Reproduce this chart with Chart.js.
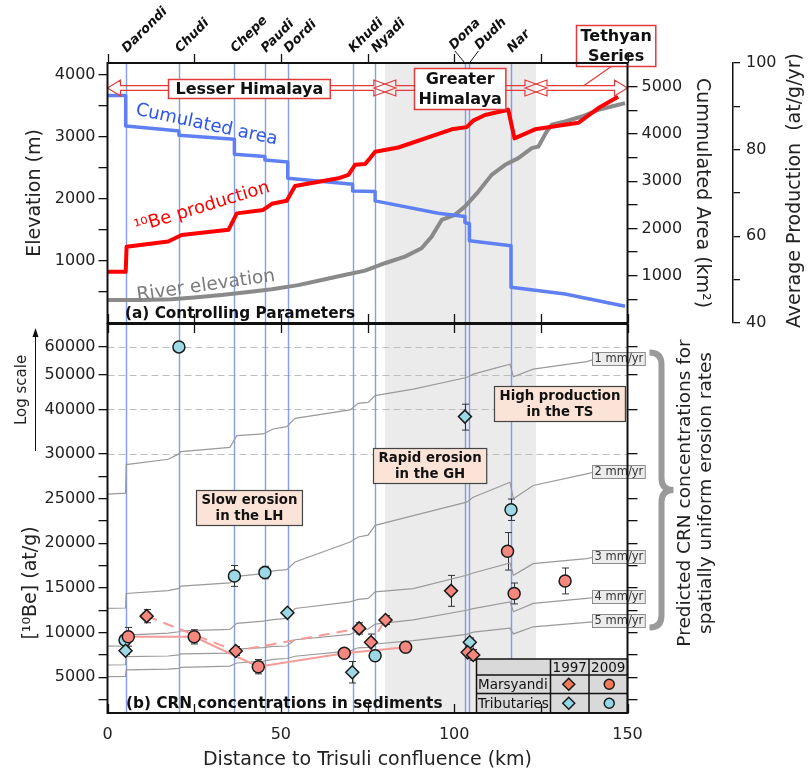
<!DOCTYPE html>
<html>
<head>
<meta charset="utf-8">
<title>10Be along the Marsyandi</title>
<script src="https://cdn.jsdelivr.net/npm/chart.js@4.4.1/dist/chart.umd.min.js"></script>
<style>
  body { margin: 0; background: #fff; }
  #page { position: relative; width: 808px; height: 775px; overflow: hidden; }
  #topChart { position: absolute; left: 0; top: 0; }
  #botChart { position: absolute; left: 0; top: 316px; }
</style>
</head>
<body>
<div id="page">
  <canvas id="topChart" width="808" height="330"></canvas>
  <canvas id="botChart" width="808" height="459"></canvas>
</div>
<script>
// ---------- values ----------
const tribNames = ['Darondi', 'Chudi', 'Chepe', 'Paudi', 'Dordi', 'Khudi', 'Nyadi', 'Dona', 'Dudh', 'Nar'];
const tribKm = [5.25, 20.6, 36.6, 45.4, 52.0, 70.7, 77.2, 103.1, 104.4, 116.4];
const lhEnd = 80;     // Lesser / Greater Himalaya boundary (km)
const ghEnd = 123.6;  // Greater Himalaya / Tethyan Series boundary (km)

// (a) controlling parameters
const areaKm = [0, 5.25, 5.25, 15.5, 20.6, 20.6, 36.6, 36.6, 45.4, 45.4, 52.0, 52.0, 70.7, 70.7, 77.2, 77.2, 95.4, 103.1, 103.1, 104.4, 104.4, 116.4, 116.4, 132, 149.3];
const areaKm2 = [4815, 4815, 4167, 4100, 4061, 3971, 3886, 3569, 3521, 3449, 3407, 3062, 2936, 2794, 2782, 2583, 2323, 2254, 2127, 2100, 1738, 1633, 754, 612, 353];

const prodKm = [0, 5.25, 5.5, 17.5, 21.4, 34.9, 37.3, 44.9, 47.4, 51.7, 54.1, 66.6, 69.5, 71.4, 74.3, 75.7, 77.2, 83.9, 99.3, 103.6, 105.5, 108.9, 115.6, 117.4, 123.3, 135.8, 141.6, 147.3];
const prodVal = [51.8, 51.8, 57.6, 58.8, 60.3, 61.5, 65.3, 66.1, 67.5, 68.2, 71.6, 73.4, 74.2, 76.5, 76.7, 78.0, 79.5, 80.5, 84.7, 85.2, 86.7, 88.0, 89.2, 82.6, 84.7, 86.2, 89.6, 92.2];

const riverKm = [0, 10, 18.5, 25, 32.9, 40, 47.4, 55, 61.8, 68, 74.3, 80.0, 85.8, 90.6, 93.5, 96.4, 100.2, 103.1, 107.0, 110.8, 114.7, 118.5, 122.4, 124.3, 126.7, 128.1, 132.0, 136.8, 141.6, 145.4, 149.3];
const riverElev = [371, 372, 382, 410, 452, 495, 544, 610, 694, 770, 844, 963, 1070, 1205, 1392, 1661, 1742, 1876, 2118, 2387, 2549, 2657, 2818, 2844, 3086, 3194, 3247, 3328, 3436, 3489, 3544];

// (b) predicted concentrations for uniform erosion rates
const rateNames = ['1 mm/yr', '2 mm/yr', '3 mm/yr', '4 mm/yr', '5 mm/yr'];
const rateKm = [0, 5.2, 5.4, 17.5, 20.6, 21.2, 35.3, 37.3, 44.9, 47.8, 51.7, 54.1, 70.0, 72.3, 75.2, 77.2, 88.2, 103.6, 105.5, 116.1, 117.1, 122.8, 138.2, 140.1];
const rate1 = [25500, 25600, 28800, 29400, 30000, 30450, 31300, 33770, 34140, 35260, 35790, 37780, 39880, 41620, 41890, 43750, 45660, 49210, 50300, 53650, 49430, 51950, 54560, 55270];
const rate2 = [12700, 12750, 14380, 14700, 14950, 15200, 15560, 16300, 16600, 16900, 17050, 17900, 20130, 20700, 20900, 22000, 23100, 24600, 25150, 26830, 24980, 26460, 27770, 27950];
const rate3 = [8490, 8520, 9720, 9950, 10090, 10200, 10360, 11030, 11280, 11450, 11590, 12700, 13440, 13710, 13820, 14550, 14930, 16420, 16670, 17790, 16420, 17720, 18280, 18430];
const rate4 = [6370, 6400, 7300, 7380, 7500, 7620, 7700, 8150, 8320, 8450, 8500, 9200, 9800, 10250, 10400, 10950, 11420, 12500, 12680, 13440, 12330, 13260, 13820, 13900];
const rate5 = [5070, 5100, 5820, 5900, 6000, 6100, 6250, 6600, 6800, 7000, 7100, 7350, 7950, 8300, 8350, 8720, 9100, 9800, 10050, 10500, 9850, 10650, 11150, 11200];

// (b) measured 10Be concentrations
const m1997Km = [11.3, 37.0, 72.6, 76.0, 80.2, 99.1, 103.9, 105.5];
const m1997Be = [11840, 7940, 10470, 8910, 11400, 14670, 7790, 7490];
const m1997Err = [740, 500, 630, 930, 500, 1730, 600, 600];

const m2009Km = [6.0, 25.0, 43.5, 68.3, 86.0, 115.4, 117.3, 132.0];
const m2009Be = [9530, 9530, 6180, 7680, 8350, 19100, 14380, 15780];
const m2009Err = [1050, 800, 800, 400, 500, 2100, 1170, 1450];

const t1997Km = [5.2, 51.9, 70.6, 103.1, 104.5];
const t1997Be = [7970, 12210, 5560, 38200, 8910];
const t1997Err = [400, 400, 1200, 3200, 500];

const t2009Km = [5.05, 20.6, 36.6, 45.4, 77.2, 116.4];
const t2009Be = [9160, 60000, 16340, 16720, 7410, 23750];
const t2009Err = [500, 0, 1170, 700, 400, 1200];

// ticks
const kmTicks = [0, 25, 50, 75, 100, 125, 150];
const kmLabels = [0, 50, 100, 150];
const elevTicks = [500, 1000, 1500, 2000, 2500, 3000, 3500, 4000];
const elevLabels = [1000, 2000, 3000, 4000];
const areaTicks = [500, 1000, 1500, 2000, 2500, 3000, 3500, 4000, 4500, 5000];
const areaLabels = [1000, 2000, 3000, 4000, 5000];
const prodTicks = [40, 50, 60, 70, 80, 90, 100];
const prodLabels = [40, 60, 80, 100];
const beTicks = [2500, 5000, 7500, 10000, 12500, 15000, 17500, 20000, 22500, 25000, 27500, 30000, 40000, 50000, 60000];
const beLabels = [5000, 10000, 15000, 20000, 25000, 30000, 40000, 50000, 60000];
const beDashed = [30000, 40000, 50000, 60000];

// ---------- setup ----------
const FONT = 'DejaVu Sans';
Chart.defaults.font.family = FONT;
Chart.defaults.color = '#222';

const MARS_FILL = '#f4877e', TRIB_FILL = '#9dd9e5';
const MARS_KEY = '#f27a58', TRIB_KEY = '#92d7e7';
const TRIB_LINE = '#6f8cea';

// linear below 30000, log above (the "Log scale" part of panel b)
const BE_BREAK = 30000;
const BE_LOG_SPAN = 11975;
class BreakLogScale extends Chart.LinearScale {
  static id = 'breaklog';
  toLin(v) { return v <= BE_BREAK ? v : BE_BREAK + BE_LOG_SPAN * Math.log2(v / BE_BREAK); }
  fromLin(t) { return t <= BE_BREAK ? t : BE_BREAK * Math.pow(2, (t - BE_BREAK) / BE_LOG_SPAN); }
  buildTicks() { return beTicks.map(v => ({ value: v })); }
  getPixelForValue(v) {
    if (v === null || v === undefined || isNaN(v)) return NaN;
    const a = this.toLin(this.min), b = this.toLin(this.max);
    return this.getPixelForDecimal((this.toLin(v) - a) / (b - a));
  }
  getValueForPixel(p) {
    const a = this.toLin(this.min), b = this.toLin(this.max);
    return this.fromLin(a + this.getDecimalForPixel(p) * (b - a));
  }
}
Chart.register(BreakLogScale);

const xy = (xs, ys) => xs.map((x, i) => ({ x, y: ys[i] }));
const setTicks = list => s => { s.ticks = list.map(v => ({ value: v })); };
const fixW = w => s => { s.width = w; s.paddingTop = 0; s.paddingBottom = 0; };

function line(ctx, x1, y1, x2, y2) {
  ctx.beginPath(); ctx.moveTo(x1, y1); ctx.lineTo(x2, y2); ctx.stroke();
}

function rotText(ctx, text, x, y, deg, font, color, align = 'center') {
  ctx.save();
  ctx.translate(x, y);
  ctx.rotate(deg * Math.PI / 180);
  ctx.font = font; ctx.fillStyle = color;
  ctx.textAlign = align; ctx.textBaseline = 'middle';
  ctx.fillText(text, 0, 0);
  ctx.restore();
}

function textBox(ctx, lines, cx, cy, o) {
  ctx.font = o.font;
  const w = Math.max(...lines.map(t => ctx.measureText(t).width)) + 2 * o.padX;
  const h = lines.length * o.lineH + 2 * o.padY;
  if (o.anchor === 'left') cx += w / 2;
  const left = Math.round(cx - w / 2) + 0.5, top = Math.round(cy - h / 2) + 0.5;
  ctx.fillStyle = o.fill; ctx.fillRect(left, top, w, h);
  ctx.strokeStyle = o.stroke; ctx.lineWidth = o.lw; ctx.strokeRect(left, top, w, h);
  ctx.fillStyle = o.color; ctx.textAlign = 'center'; ctx.textBaseline = 'middle';
  lines.forEach((t, i) => ctx.fillText(t, left + w / 2, top + o.padY + o.lineH * (i + 0.5) + 0.5));
  return { left, top, w, h };
}

function shade(ctx, x, a) {
  const l = x.getPixelForValue(lhEnd), r = x.getPixelForValue(ghEnd);
  ctx.fillStyle = '#ebebeb';
  ctx.fillRect(l, a.top, r - l, a.bottom - a.top);
}

function tribLines(ctx, x, a) {
  ctx.strokeStyle = TRIB_LINE; ctx.lineWidth = 1.4; ctx.globalAlpha = 0.85;
  tribKm.forEach(k => {
    const px = Math.round(x.getPixelForValue(k)) + 0.5;
    line(ctx, px, a.top, px, a.bottom);
  });
  ctx.globalAlpha = 1;
}

function kmTickMarks(ctx, x, y0, len) {
  ctx.strokeStyle = '#111'; ctx.lineWidth = 1.3;
  kmTicks.forEach(k => {
    const px = Math.round(x.getPixelForValue(k)) + 0.5;
    line(ctx, px, y0, px, y0 + len);
  });
}

function frame(ctx, a) {
  ctx.strokeStyle = '#111'; ctx.lineWidth = 2;
  ctx.strokeRect(a.left, a.top, a.right - a.left, a.bottom - a.top);
}

// hollow double arrow, head lengths h1 (left) and h2 (right)
function hollowArrow(ctx, x1, x2, y, h1, h2) {
  const hh = 8, sw = 2.4;
  ctx.beginPath();
  ctx.moveTo(x1, y);
  ctx.lineTo(x1 + h1, y - hh); ctx.lineTo(x1 + h1, y - sw);
  ctx.lineTo(x2 - h2, y - sw); ctx.lineTo(x2 - h2, y - hh);
  ctx.lineTo(x2, y);
  ctx.lineTo(x2 - h2, y + hh); ctx.lineTo(x2 - h2, y + sw);
  ctx.lineTo(x1 + h1, y + sw); ctx.lineTo(x1 + h1, y + hh);
  ctx.closePath();
  ctx.stroke();
}

function marker(ctx, style, cx, cy, r, fill) {
  ctx.beginPath();
  if (style === 'circle') ctx.arc(cx, cy, r, 0, Math.PI * 2);
  else { ctx.moveTo(cx - r, cy); ctx.lineTo(cx, cy - r); ctx.lineTo(cx + r, cy); ctx.lineTo(cx, cy + r); ctx.closePath(); }
  ctx.fillStyle = fill; ctx.fill();
  ctx.lineWidth = 1.5; ctx.strokeStyle = '#1a1a1a'; ctx.stroke();
}

function errorBars(ctx, x, y, kms, vals, errs) {
  ctx.strokeStyle = '#333'; ctx.lineWidth = 1;
  kms.forEach((k, i) => {
    if (!errs[i]) return;
    const px = Math.round(x.getPixelForValue(k)) + 0.5;
    const t = y.getPixelForValue(vals[i] + errs[i]);
    const b = y.getPixelForValue(vals[i] - errs[i]);
    ctx.beginPath();
    ctx.moveTo(px, t); ctx.lineTo(px, b);
    ctx.moveTo(px - 3.5, t); ctx.lineTo(px + 3.5, t);
    ctx.moveTo(px - 3.5, b); ctx.lineTo(px + 3.5, b);
    ctx.stroke();
  });
}

// ---------- panel (a) ----------
const topDecor = {
  id: 'topDecor',
  beforeDatasetsDraw(chart) {
    const { ctx, chartArea: a, scales: { x } } = chart;
    ctx.save();
    shade(ctx, x, a);
    tribLines(ctx, x, a);
    ctx.restore();
  },
  afterDraw(chart) {
    const { ctx, chartArea: a, scales: { x, elev } } = chart;
    ctx.save();

    rotText(ctx, 'Cumulated area', x.getPixelForValue(28.6), elev.getPixelForValue(3190), 12, `18px ${FONT}`, '#2d55e8');
    rotText(ctx, '¹⁰Be production', x.getPixelForValue(27.3), elev.getPixelForValue(1860), -17, `18px ${FONT}`, '#ff0000');
    rotText(ctx, 'River elevation', x.getPixelForValue(28.4), elev.getPixelForValue(600), -8, `18.5px ${FONT}`, '#7a7a7a');

    ctx.font = `bold 15.3px ${FONT}`; ctx.fillStyle = '#111';
    ctx.textAlign = 'left'; ctx.textBaseline = 'middle';
    ctx.fillText('(a) Controlling Parameters', a.left + 17.5, a.bottom - 9);

    // geological units
    const ay = a.top + 25;
    const b1 = x.getPixelForValue(lhEnd), b2 = x.getPixelForValue(ghEnd);
    ctx.strokeStyle = '#e23a3a'; ctx.lineWidth = 1.2;
    hollowArrow(ctx, x.getPixelForValue(0), b1 + 11, ay, 13, 22);
    hollowArrow(ctx, b1 - 11, b2 + 11, ay, 22, 22);
    hollowArrow(ctx, b2 - 11, x.getPixelForValue(150), ay, 22, 13);
    const tsx = x.getPixelForValue(146.5);
    line(ctx, tsx - 2, a.top + 2, tsx - 32, ay - 2);
    const unitBox = { font: `bold 16px ${FONT}`, fill: '#fff', stroke: '#e23a3a', lw: 1.5, color: '#111', padX: 4, padY: 0.5, lineH: 20 };
    textBox(ctx, ['Lesser Himalaya'], x.getPixelForValue(40.7), ay + 0.5, { ...unitBox, padX: 7, padY: 1, lineH: 17 });
    textBox(ctx, ['Greater', 'Himalaya'], x.getPixelForValue(101.5), ay, unitBox);
    textBox(ctx, ['Tethyan', 'Series'], tsx, a.top - 18, unitBox);

    frame(ctx, a);
    kmTickMarks(ctx, x, a.top, -9);
    kmTickMarks(ctx, x, a.bottom, -9);

    // tributary names on top
    const shift = { Dona: -12, Dudh: 9 };
    ctx.font = `italic bold 13px ${FONT}`;
    tribNames.forEach((n, i) => {
      const px = x.getPixelForValue(tribKm[i]);
      const s = shift[n] || 0;
      const ax = px + 1 + s, ay2 = a.top - (s ? 13 : 10);
      if (s) {
        ctx.strokeStyle = '#111'; ctx.lineWidth = 1;
        line(ctx, px, a.top, ax + (s < 0 ? 1 : -1), ay2 + 1);
      }
      ctx.save();
      ctx.translate(ax, ay2);
      ctx.rotate(-Math.PI / 4);
      ctx.fillStyle = '#111'; ctx.textAlign = 'left'; ctx.textBaseline = 'alphabetic';
      ctx.fillText(n, 0, 0);
      ctx.restore();
    });

    rotText(ctx, 'Average Production  (at/g/yr)', 795, 190.5, -90, `19px ${FONT}`, '#222');
    ctx.restore();
  }
};

const vAxis = (extra) => Object.assign({
  ticks: { autoSkip: false, font: { size: 16 }, color: '#222' },
  grid: { drawOnChartArea: false, drawTicks: true, tickLength: 9, color: '#111', lineWidth: 1.3 },
  border: { display: false }
}, extra);

new Chart(document.getElementById('topChart'), {
  type: 'line',
  data: {
    datasets: [
      { label: '10Be production', data: xy(prodKm, prodVal), yAxisID: 'prod', borderColor: '#ff0000', borderWidth: 4, pointRadius: 0, order: 1 },
      { label: 'Cumulated area', data: xy(areaKm, areaKm2), yAxisID: 'area', borderColor: '#5f80f2', borderWidth: 3.5, pointRadius: 0, order: 2 },
      { label: 'River elevation', data: xy(riverKm, riverElev), yAxisID: 'elev', borderColor: '#8a8a8a', borderWidth: 4, pointRadius: 0, order: 3 }
    ]
  },
  options: {
    responsive: false, animation: false, events: [],
    layout: { padding: { top: 63, bottom: 7, left: 0, right: 0 } },
    plugins: { legend: { display: false }, tooltip: { enabled: false } },
    elements: { line: { tension: 0, borderJoinStyle: 'round' } },
    scales: {
      x: { type: 'linear', min: 0, max: 150, display: false },
      elev: vAxis({
        position: 'left', min: 0, max: 4190,
        afterBuildTicks: setTicks(elevTicks), afterFit: fixW(107.5),
        ticks: { autoSkip: false, padding: 3, font: { size: 16 }, color: '#222', callback: v => elevLabels.includes(v) ? String(v) : '' },
        title: { display: true, text: 'Elevation (m)', font: { size: 19 }, color: '#222', padding: { top: 23.6, bottom: 0 } }
      }),
      area: vAxis({
        position: 'right', weight: 0, min: 0, max: 5500,
        afterBuildTicks: setTicks(areaTicks), afterFit: fixW(105.5),
        ticks: { autoSkip: false, padding: 4, font: { size: 16 }, color: '#222', callback: v => areaLabels.includes(v) ? String(v) : '' },
        grid: { drawOnChartArea: false, drawTicks: true, tickLength: 10, color: '#111', lineWidth: 1.3 },
        title: { display: true, text: 'Cummulated Area (km²)', font: { size: 19 }, color: '#222', padding: { top: 20, bottom: 0 } }
      }),
      prod: vAxis({
        position: 'right', weight: 1, min: 40, max: 100,
        afterBuildTicks: setTicks(prodTicks), afterFit: fixW(75),
        ticks: { autoSkip: false, padding: 6, font: { size: 16 }, color: '#222', callback: v => prodLabels.includes(v) ? String(v) : '' },
        grid: { drawOnChartArea: false, drawTicks: true, tickLength: 7, color: '#111', lineWidth: 1.3 },
        border: { display: true, color: '#111', width: 1.5 }
      })
    }
  },
  plugins: [topDecor]
});

// ---------- panel (b) ----------
const rateSeries = [rate1, rate2, rate3, rate4, rate5];

const botDecor = {
  id: 'botDecor',
  beforeDatasetsDraw(chart) {
    const { ctx, chartArea: a, scales: { x, y } } = chart;
    ctx.save();
    shade(ctx, x, a);
    ctx.strokeStyle = '#bdbdbd'; ctx.lineWidth = 1.2; ctx.setLineDash([7, 4]);
    beDashed.forEach(v => {
      const py = Math.round(y.getPixelForValue(v)) + 0.5;
      line(ctx, a.left, py, a.right, py);
    });
    ctx.setLineDash([]);
    tribLines(ctx, x, a);
    errorBars(ctx, x, y, m1997Km, m1997Be, m1997Err);
    errorBars(ctx, x, y, m2009Km, m2009Be, m2009Err);
    errorBars(ctx, x, y, t1997Km, t1997Be, t1997Err);
    errorBars(ctx, x, y, t2009Km, t2009Be, t2009Err);
    ctx.restore();
  },
  afterDraw(chart) {
    const { ctx, chartArea: a, scales: { x, y } } = chart;
    ctx.save();

    // rate labels at the end of each curve
    const last = rateKm.length - 1;
    const rateBoxes = rateSeries.map((s, i) => textBox(ctx, [rateNames[i]],
      x.getPixelForValue(rateKm[last]) - 1, y.getPixelForValue(s[last]) - 1,
      { anchor: 'left', font: `11.5px ${FONT}`, fill: '#ececec', stroke: '#8c8c8c', lw: 1, color: '#333', padX: 2, padY: 0.5, lineH: 12 }));

    const noteBox = { font: `bold 13.3px ${FONT}`, fill: '#fbe4d7', stroke: '#444', lw: 1.2, color: '#111', padX: 5, padY: 1.5, lineH: 16 };
    textBox(ctx, ['Slow erosion', 'in the LH'], x.getPixelForValue(40.8), y.getPixelForValue(24000), noteBox);
    textBox(ctx, ['Rapid erosion', 'in the GH'], x.getPixelForValue(92.8), y.getPixelForValue(28730), noteBox);
    textBox(ctx, ['High production', 'in the TS'], x.getPixelForValue(130.4), y.getPixelForValue(41640), noteBox);

    ctx.font = `bold 15.3px ${FONT}`; ctx.fillStyle = '#111';
    ctx.textAlign = 'left'; ctx.textBaseline = 'middle';
    ctx.fillText('(b) CRN concentrations in sediments', a.left + 18.5, a.bottom - 9);

    // key table
    const cx = [a.right - 151, a.right - 77, a.right - 38.5, a.right];
    const ry = [a.bottom - 54, a.bottom - 38, a.bottom - 19.5, a.bottom];
    ctx.fillStyle = '#d9d9d9';
    ctx.fillRect(cx[0], ry[0], cx[3] - cx[0], ry[3] - ry[0]);
    ctx.strokeStyle = '#111'; ctx.lineWidth = 1.5;
    ctx.strokeRect(cx[0], ry[0], cx[3] - cx[0], ry[3] - ry[0]);
    [1, 2].forEach(i => { line(ctx, cx[i], ry[0], cx[i], ry[3]); line(ctx, cx[0], ry[i], cx[3], ry[i]); });
    ctx.font = `13.5px ${FONT}`; ctx.fillStyle = '#111'; ctx.textBaseline = 'middle';
    ctx.textAlign = 'center';
    ctx.fillText('1997', (cx[1] + cx[2]) / 2, (ry[0] + ry[1]) / 2 + 1);
    ctx.fillText('2009', (cx[2] + cx[3]) / 2, (ry[0] + ry[1]) / 2 + 1);
    ctx.textAlign = 'left';
    ctx.fillText('Marsyandi', cx[0] + 1.5, (ry[1] + ry[2]) / 2 + 1);
    ctx.fillText('Tributaries', cx[0] + 1.5, (ry[2] + ry[3]) / 2 + 1);
    marker(ctx, 'diamond', (cx[1] + cx[2]) / 2 - 1, (ry[1] + ry[2]) / 2, 6, MARS_KEY);
    marker(ctx, 'circle', (cx[2] + cx[3]) / 2 + 1, (ry[1] + ry[2]) / 2, 5, MARS_KEY);
    marker(ctx, 'diamond', (cx[1] + cx[2]) / 2 - 1, (ry[2] + ry[3]) / 2, 6, TRIB_KEY);
    marker(ctx, 'circle', (cx[2] + cx[3]) / 2 + 1, (ry[2] + ry[3]) / 2, 5, TRIB_KEY);

    frame(ctx, a);
    kmTickMarks(ctx, x, a.top, 9);
    kmTickMarks(ctx, x, a.bottom, -9);

    // brace + its caption
    const bt = rateBoxes[0].top, bb = rateBoxes[4].top + rateBoxes[4].h, bm = (bt + bb) / 2;
    const x0 = a.right + 22, xm = a.right + 34, xt = a.right + 46;
    ctx.strokeStyle = '#9a9a9a'; ctx.lineWidth = 6; ctx.lineCap = 'butt';
    ctx.beginPath();
    ctx.moveTo(x0, bt);
    ctx.quadraticCurveTo(xm, bt, xm, bt + 12);
    ctx.lineTo(xm, bm - 12);
    ctx.quadraticCurveTo(xm, bm, xt, bm);
    ctx.quadraticCurveTo(xm, bm, xm, bm + 12);
    ctx.lineTo(xm, bb - 12);
    ctx.quadraticCurveTo(xm, bb, x0, bb);
    ctx.stroke();
    rotText(ctx, 'Predicted CRN concentrations for', a.right + 58, bm + 3, -90, `18.5px ${FONT}`, '#222');
    rotText(ctx, 'spatially uniform erosion rates', a.right + 79, bm + 3, -90, `18.5px ${FONT}`, '#222');

    // left title and log-scale arrow
    rotText(ctx, '[¹⁰Be] (at/g)', 31, 267, -90, `19px ${FONT}`, '#222');
    rotText(ctx, 'Log scale', 22, 74, -90, `15px ${FONT}`, '#222');
    ctx.strokeStyle = '#111'; ctx.lineWidth = 1;
    line(ctx, 35.5, 135, 35.5, 18);
    ctx.fillStyle = '#111';
    ctx.beginPath(); ctx.moveTo(35.5, 12); ctx.lineTo(32.5, 21); ctx.lineTo(38.5, 21); ctx.closePath(); ctx.fill();
    ctx.restore();
  }
};

const pointSet = (kms, vals, style, fill) => ({
  data: xy(kms, vals), showLine: false, pointStyle: style,
  pointRadius: style === 'circle' ? 6 : 6.5,
  pointBackgroundColor: fill, pointBorderColor: '#1a1a1a', pointBorderWidth: 1.5, order: 1
});

new Chart(document.getElementById('botChart'), {
  type: 'line',
  data: {
    datasets: [
      ...rateSeries.map((s, i) => ({ label: rateNames[i], data: xy(rateKm, s), borderColor: '#9a9a9a', borderWidth: 1.2, pointRadius: 0, order: 10 })),
      { data: xy(m2009Km, m2009Be).slice(0, 5), borderColor: '#f59b98', borderWidth: 2, pointRadius: 0, order: 5 },
      { data: xy(m1997Km, m1997Be).slice(0, 5), borderColor: '#f59b98', borderWidth: 2, borderDash: [11, 7], pointRadius: 0, order: 5 },
      pointSet(m1997Km, m1997Be, 'rectRot', MARS_FILL),
      pointSet(m2009Km, m2009Be, 'circle', MARS_FILL),
      pointSet(t1997Km, t1997Be, 'rectRot', TRIB_FILL),
      pointSet(t2009Km, t2009Be, 'circle', TRIB_FILL)
    ]
  },
  options: {
    responsive: false, animation: false, events: [],
    layout: { padding: { top: 7, bottom: 0, left: 0, right: 0 } },
    plugins: { legend: { display: false }, tooltip: { enabled: false } },
    elements: { line: { tension: 0 } },
    scales: {
      x: {
        type: 'linear', position: 'bottom', min: 0, max: 150,
        afterBuildTicks: setTicks(kmTicks),
        afterFit: s => { s.height = 62; s.paddingLeft = 0; s.paddingRight = 0; },
        ticks: { autoSkip: false, maxRotation: 0, padding: 12, font: { size: 16 }, color: '#222', callback: v => kmLabels.includes(v) ? String(v) : '' },
        grid: { drawOnChartArea: false, drawTicks: false },
        border: { display: false },
        title: { display: true, text: 'Distance to Trisuli confluence (km)', font: { size: 19 }, color: '#222', padding: { top: 0, bottom: 3.5 } }
      },
      y: vAxis({
        type: 'breaklog', position: 'left', min: 1000, max: 69600,
        afterFit: fixW(107.5),
        ticks: { autoSkip: false, padding: 3, font: { size: 16 }, color: '#222', callback: v => beLabels.includes(v) ? String(v) : '' }
      }),
      yr: vAxis({
        type: 'breaklog', position: 'right', min: 1000, max: 69600,
        afterFit: fixW(180.5),
        ticks: { display: false },
        grid: { drawOnChartArea: false, drawTicks: true, tickLength: 10, color: '#111', lineWidth: 1.3 }
      })
    }
  },
  plugins: [botDecor]
});
</script>
</body>
</html>
